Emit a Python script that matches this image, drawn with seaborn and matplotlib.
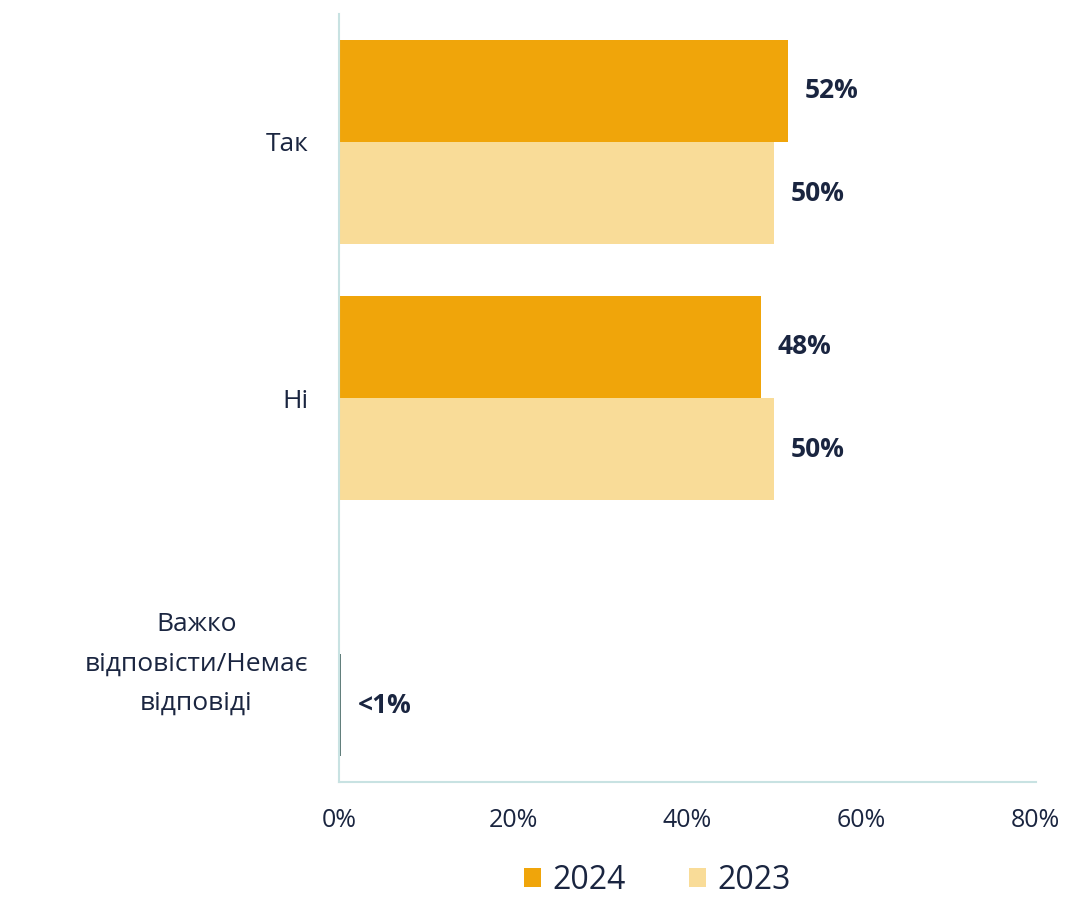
import matplotlib
matplotlib.use("Agg")
import matplotlib.pyplot as plt
import seaborn as sns
import pandas as pd
from matplotlib.patches import Patch

categories = ["Так", "Ні", "Важко\nвідповісти/Немає\nвідповіді"]
years = ["2024", "2023"]
values_2024 = [51.6, 48.4, 0.0]
values_2023 = [50.0, 50.0, 0.25]
labels_2024 = ["52%", "48%", ""]
labels_2023 = ["50%", "50%", "<1%"]
x_ticks = [0, 20, 40, 60, 80]
x_tick_labels = ["0%", "20%", "40%", "60%", "80%"]

colors = {"2024": "#F0A50A", "2023": "#F9DC98"}
small_bar_color = "#5E7B78"
text_color = "#1A2540"
spine_color = "#C8E2E2"

df = pd.DataFrame({
    "category": categories * 2,
    "year": ["2024"] * 3 + ["2023"] * 3,
    "value": values_2024 + values_2023,
})

sns.set_style("white")
plt.rcParams["font.family"] = ["Open Sans", "DejaVu Sans"]

fig = plt.figure(figsize=(10.69, 9.02), dpi=100)
ax = fig.add_axes([0.317, 0.133, 0.652, 0.8515])

sns.barplot(data=df, y="category", x="value", hue="year", order=categories,
            hue_order=years, palette=colors, orient="h", width=0.8,
            saturation=1, ax=ax, legend=False, errorbar=None, linewidth=0)

# recolor the tiny third-category 2023 bar
cont_2023 = ax.containers[1]
cont_2023.patches[2].set_facecolor(small_bar_color)

ax.bar_label(ax.containers[0], labels=labels_2024, padding=12,
             fontsize=19, fontweight="bold", color=text_color)
ax.bar_label(ax.containers[1], labels=labels_2023, padding=12,
             fontsize=19, fontweight="bold", color=text_color)

ax.set_xlim(0, 80)
ax.set_ylim(2.5, -0.5)
ax.set_xticks(x_ticks)
ax.set_xticklabels(x_tick_labels, fontsize=18, color=text_color)
ax.set_yticks(range(len(categories)))
ax.set_yticklabels(categories, fontsize=19, color=text_color,
                   ha="right", multialignment="center", linespacing=1.75)
ax.tick_params(axis="y", length=0, pad=22)
ax.tick_params(axis="x", direction="in", length=8, width=1.5,
               color=spine_color, pad=19)
ax.set_xlabel("")
ax.set_ylabel("")

for s in ["top", "right"]:
    ax.spines[s].set_visible(False)
for s in ["left", "bottom"]:
    ax.spines[s].set_color(spine_color)
    ax.spines[s].set_linewidth(1.5)

handles = [Patch(facecolor=colors[y], edgecolor="none") for y in years]
fig.legend(handles, years, loc="lower center", bbox_to_anchor=(0.615, -0.026),
           ncol=2, frameon=False, fontsize=23, handlelength=0.53,
           handleheight=0.53, handletextpad=0.35, columnspacing=2.0,
           labelcolor=text_color)

fig.savefig("out.png", dpi=100)
